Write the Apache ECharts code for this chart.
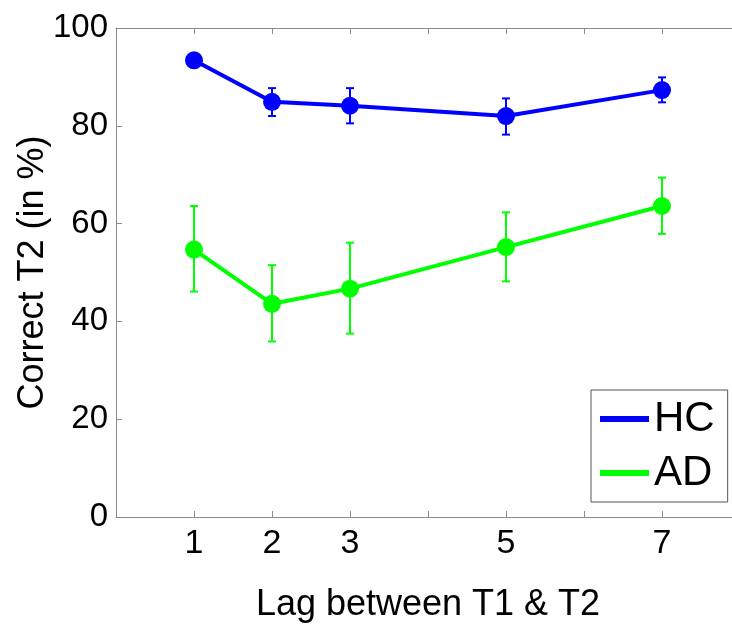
<!DOCTYPE html>
<html>
<head>
<meta charset="utf-8">
<script src="https://cdn.jsdelivr.net/npm/echarts@6/dist/echarts.min.js"></script>
<style>
  html, body { margin: 0; padding: 0; background: #fff; }
  #chart { width: 732px; height: 625px; }
</style>
</head>
<body>
<div id="chart"></div>
<script>
// values
const lags = [1, 2, 3, 5, 7]
const xTickLabels = [1, 2, 3, 5, 7]
const hcMean = [93.4, 84.9, 84.1, 82.0, 87.3]
const hcLow = [92.2, 82.0, 80.5, 78.2, 84.8]
const hcHigh = [94.4, 87.7, 87.7, 85.6, 89.9]
const adMean = [54.7, 43.6, 46.7, 55.2, 63.6]
const adLow = [46.1, 35.9, 37.5, 48.2, 57.9]
const adHigh = [63.6, 51.5, 56.1, 62.3, 69.4]

const BLUE = '#0000ff'
const GREEN = '#00ff00'
const AXIS = '#8c8c8c'
const FONT = 'Liberation Sans'

const chart = echarts.init(document.getElementById('chart'))

const errorBars = (name, color, low, high) => ({
  name: name,
  type: 'custom',
  z: 1,
  data: lags.map((x, i) => [x, low[i], high[i]]),
  renderItem: (params, api) => {
    const top = api.coord([api.value(0), api.value(2)])
    const bot = api.coord([api.value(0), api.value(1)])
    const w = 4
    const style = { stroke: color, lineWidth: 2 }
    return {
      type: 'group',
      children: [
        { type: 'line', shape: { x1: top[0], y1: top[1], x2: bot[0], y2: bot[1] }, style: style },
        { type: 'line', shape: { x1: top[0] - w, y1: top[1], x2: top[0] + w, y2: top[1] }, style: style },
        { type: 'line', shape: { x1: bot[0] - w, y1: bot[1], x2: bot[0] + w, y2: bot[1] }, style: style }
      ]
    }
  }
})

const meanLine = (name, color, mean) => ({
  name: name,
  type: 'line',
  z: 2,
  data: lags.map((x, i) => [x, mean[i]]),
  symbol: 'circle',
  symbolSize: 18,
  lineStyle: { color: color, width: 4 },
  itemStyle: { color: color }
})

const option = {
  animation: false,
  textStyle: { fontFamily: FONT },
  // plot box runs past the right edge of the picture (x max 8 is cut off)
  grid: { left: 116, width: 624, top: 28, bottom: 108, containLabel: false, outerBoundsMode: 'none' },
  legend: {
    left: 591,
    top: 390,
    orient: 'vertical',
    data: ['HC', 'AD'],
    icon: 'rect',
    itemWidth: 49,
    itemHeight: 6,
    itemGap: 12,
    padding: [8, 13, 8, 9],
    backgroundColor: '#fff',
    borderColor: '#555',
    borderWidth: 1,
    textStyle: { fontSize: 42, color: '#000', fontFamily: FONT }
  },
  xAxis: [
    {
      type: 'value',
      min: 0,
      max: 8,
      interval: 1,
      name: 'Lag between T1 & T2',
      nameLocation: 'middle',
      nameGap: 70,
      nameMoveOverlap: false,
      nameTextStyle: { fontSize: 36, color: '#000', fontFamily: FONT },
      axisLine: { lineStyle: { color: AXIS, width: 1 } },
      axisTick: { inside: true, length: 6, lineStyle: { color: AXIS } },
      axisLabel: {
        fontSize: 34,
        color: '#000',
        margin: 10,
        formatter: v => (xTickLabels.includes(v) ? String(v) : '')
      },
      splitLine: { show: false }
    },
    {
      type: 'value',
      position: 'top',
      min: 0,
      max: 8,
      interval: 1,
      axisLine: { lineStyle: { color: AXIS, width: 1 } },
      axisTick: { inside: true, length: 6, lineStyle: { color: AXIS } },
      axisLabel: { show: false },
      splitLine: { show: false }
    }
  ],
  yAxis: {
    type: 'value',
    min: 0,
    max: 100,
    interval: 20,
    name: 'Correct T2 (in %)',
    nameLocation: 'middle',
    nameGap: 65,
    nameMoveOverlap: false,
    nameTextStyle: { fontSize: 36, color: '#000', fontFamily: FONT },
    axisLine: { show: true, lineStyle: { color: AXIS, width: 1 } },
    axisTick: { show: true, inside: true, length: 6, lineStyle: { color: AXIS } },
    axisLabel: { fontSize: 33, color: '#000', margin: 8 },
    splitLine: { show: false }
  },
  series: [
    errorBars('HC err', BLUE, hcLow, hcHigh),
    errorBars('AD err', GREEN, adLow, adHigh),
    meanLine('HC', BLUE, hcMean),
    meanLine('AD', GREEN, adMean)
  ]
}

chart.setOption(option)
</script>
</body>
</html>
